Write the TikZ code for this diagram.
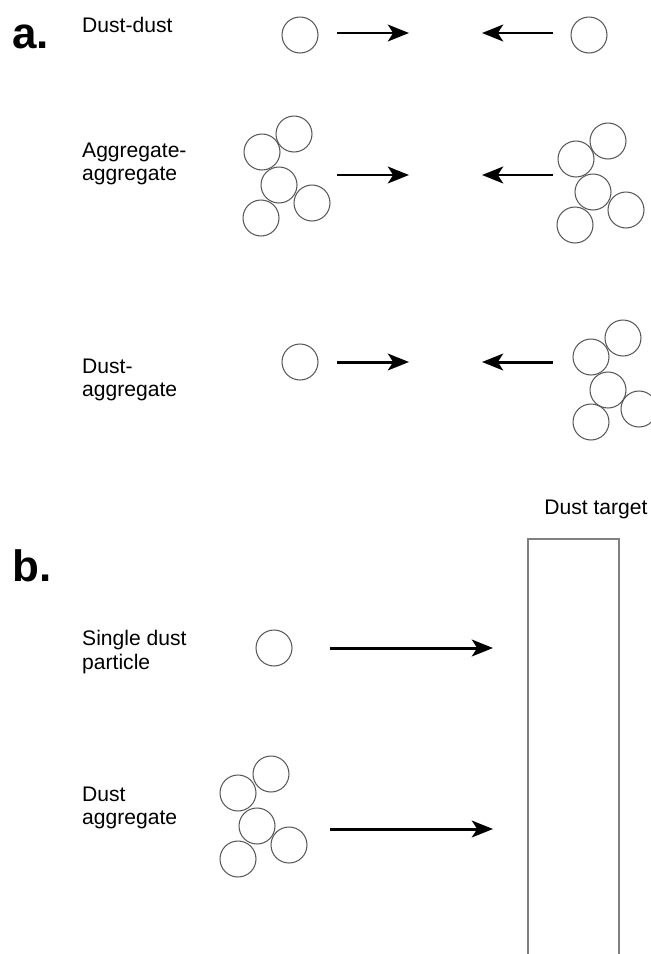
\documentclass[tikz,border=0pt]{standalone}
\usepackage{fontspec}
\setmainfont{Liberation Sans}
\usetikzlibrary{arrows.meta}

\tikzset{
  dust/.style={draw=black!65, line width=0.6pt, circle, inner sep=0pt, minimum size=0.72cm},
  push/.style={-{Stealth[length=12pt, width=9.5pt, inset=3pt]}, line width=1.7pt},
  caption/.style={anchor=west, align=left, font=\fontsize{12}{13.2}\selectfont},
  panel/.style={anchor=west, font=\fontsize{25}{25}\bfseries\selectfont}
}

\begin{document}
\begin{tikzpicture}[x=0.02cm, y=-0.02cm]
\useasboundingbox (0,0) rectangle (651,954);

% Panel a
\node[panel] (pa) at (6,37) {a.};

% Dust-dust
\node[caption] (l1) at (76,25) {Dust-dust};
\node[dust] (d1) at (300,35) {};
\node[dust] (d2) at (589,35) {};
\coordinate (r1s) at (337,33);
\coordinate (r1e) at (409,33);
\coordinate (r1t) at (553,33);
\coordinate (r1u) at (482,33);
\draw[push] (r1s) -- (r1e);
\draw[push] (r1t) -- (r1u);

% Aggregate-aggregate
\node[caption] (l2) at (76,164) {Aggregate-\\aggregate};
\begin{scope}[shift={(279,185)}]
  \foreach \dx/\dy [count=\i] in {15/-51, -17/-33, 0/0, -18/33, 33/18}
    \node[dust] (agA\i) at (\dx,\dy) {};
\end{scope}
\begin{scope}[shift={(593,192)}]
  \foreach \dx/\dy [count=\i] in {15/-51, -17/-33, 0/0, -18/33, 33/18}
    \node[dust] (agB\i) at (\dx,\dy) {};
\end{scope}
\coordinate (r2s) at (337,175);
\coordinate (r2e) at (409,175);
\coordinate (r2t) at (553,175);
\coordinate (r2u) at (482,175);
\draw[push] (r2s) -- (r2e);
\draw[push] (r2t) -- (r2u);

% Dust-aggregate
\node[caption] (l3) at (76,380) {Dust-\\aggregate};
\node[dust] (d3) at (300,362) {};
\begin{scope}[shift={(608,390)}]
  \foreach \dx/\dy [count=\i] in {15/-52, -17/-33, 0/0, -17/32, 31/19}
    \node[dust] (agC\i) at (\dx,\dy) {};
\end{scope}
\coordinate (r3s) at (337,362);
\coordinate (r3e) at (409,362);
\coordinate (r3t) at (553,362);
\coordinate (r3u) at (482,362);
\draw[push] (r3s) -- (r3e);
\draw[push] (r3t) -- (r3u);

% Panel b
\node[panel] (pb) at (6,566) {b.};
\node[font=\fontsize{12}{13.2}\selectfont] (tl) at (596,509) {Dust target};
\draw[black!50, line width=1pt] (528,954) -- (528,539) -- (619,539) -- (619,954);

% Single dust particle
\node[caption] (l4) at (76,652) {Single dust\\particle};
\node[dust] (d4) at (274,648) {};
\coordinate (r4s) at (330,648);
\coordinate (r4e) at (493,648);
\draw[push] (r4s) -- (r4e);

% Dust aggregate
\node[caption] (l5) at (76,808) {Dust\\aggregate};
\begin{scope}[shift={(257,826)}]
  \foreach \dx/\dy [count=\i] in {14/-52, -19/-33, 0/0, -19/33, 32/19}
    \node[dust] (agD\i) at (\dx,\dy) {};
\end{scope}
\coordinate (r5s) at (330,829);
\coordinate (r5e) at (493,829);
\draw[push] (r5s) -- (r5e);

\end{tikzpicture}
\end{document}
